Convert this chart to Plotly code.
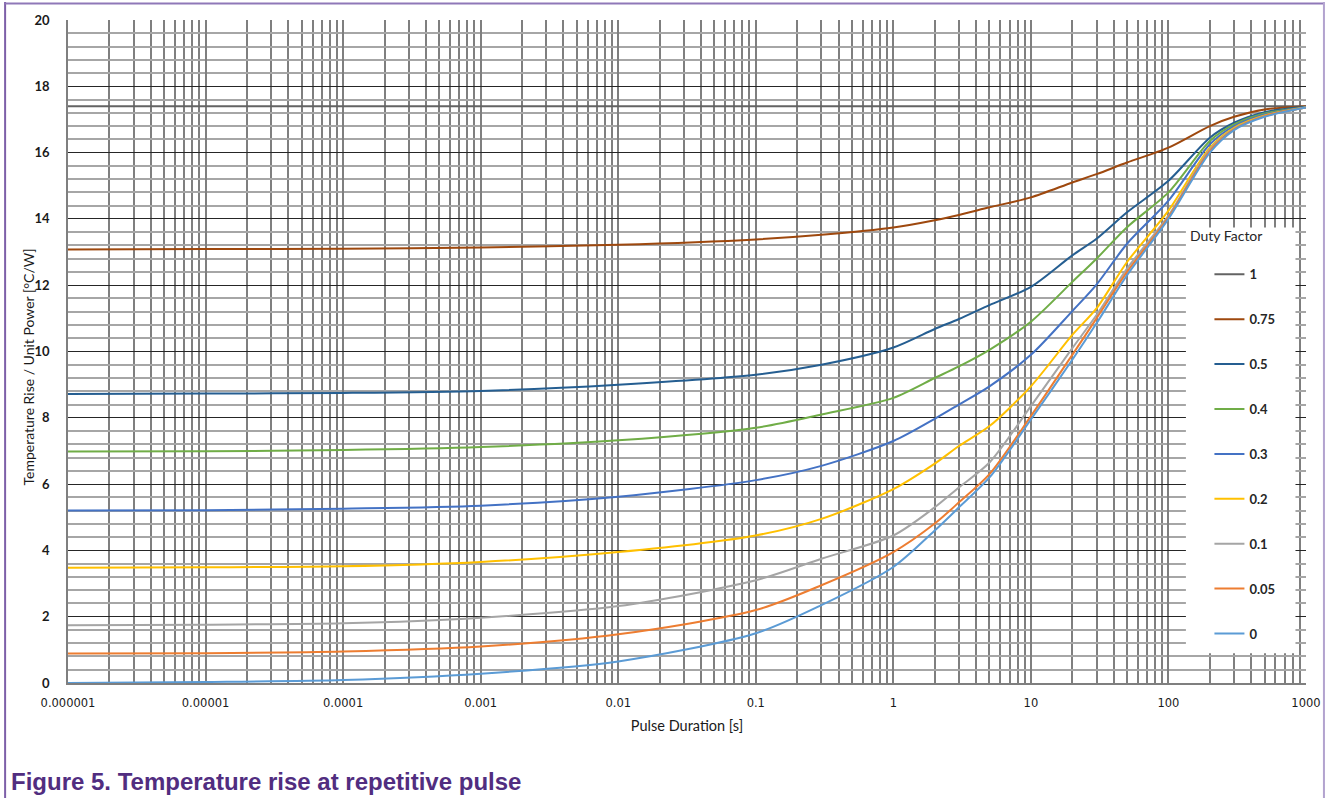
import plotly.graph_objects as go

# Pulse duration [s]
pulse = [1e-6, 1e-5, 1e-4, 1e-3, 1e-2, 0.1, 0.3, 1, 2, 3, 5, 10, 20, 30, 50, 100, 200, 300, 500, 1000]

# Temperature rise / unit power [°C/W] per duty factor
d_1    = [17.4] * 20
d_075  = [13.08, 13.09, 13.10, 13.14, 13.22, 13.38, 13.52, 13.74, 13.96, 14.12, 14.35, 14.65, 15.10, 15.35, 15.70, 16.15, 16.80, 17.08, 17.30, 17.40]
d_05   = [8.72, 8.73, 8.75, 8.81, 9.00, 9.30, 9.60, 10.12, 10.68, 10.98, 11.40, 11.95, 12.90, 13.40, 14.20, 15.15, 16.45, 16.90, 17.22, 17.38]
d_04   = [6.98, 6.99, 7.03, 7.12, 7.32, 7.70, 8.10, 8.60, 9.20, 9.55, 10.05, 10.90, 12.10, 12.80, 13.75, 14.80, 16.35, 16.85, 17.18, 17.37]
d_03   = [5.20, 5.21, 5.26, 5.35, 5.62, 6.12, 6.55, 7.30, 7.97, 8.40, 8.95, 9.90, 11.22, 12.02, 13.25, 14.55, 16.25, 16.80, 17.15, 17.37]
d_02   = [3.48, 3.49, 3.52, 3.65, 3.95, 4.45, 4.95, 5.85, 6.62, 7.15, 7.75, 8.95, 10.50, 11.30, 12.70, 14.25, 16.15, 16.75, 17.12, 17.36]
d_01   = [1.74, 1.76, 1.80, 1.97, 2.32, 3.10, 3.75, 4.45, 5.30, 5.90, 6.65, 8.35, 10.10, 11.10, 12.50, 14.10, 16.10, 16.72, 17.10, 17.36]
d_005  = [0.89, 0.90, 0.95, 1.10, 1.47, 2.20, 2.95, 3.95, 4.81, 5.45, 6.30, 8.05, 9.90, 11.00, 12.40, 14.05, 16.05, 16.70, 17.10, 17.36]
d_0    = [0.00, 0.03, 0.09, 0.28, 0.65, 1.50, 2.35, 3.50, 4.60, 5.30, 6.20, 7.95, 9.75, 10.85, 12.30, 14.00, 16.00, 16.68, 17.08, 17.36]

series_names = ["1", "0.75", "0.5", "0.4", "0.3", "0.2", "0.1", "0.05", "0"]
series_values = [d_1, d_075, d_05, d_04, d_03, d_02, d_01, d_005, d_0]
series_colors = ["#636363", "#9E480E", "#255E91", "#70AD47", "#4472C4", "#FFC000", "#A5A5A5", "#ED7D31", "#5B9BD5"]

x_tickvals = [1e-6, 1e-5, 1e-4, 1e-3, 1e-2, 1e-1, 1, 10, 100, 1000]
x_ticktext = ["0.000001", "0.00001", "0.0001", "0.001", "0.01", "0.1", "1", "10", "100", "1000"]
x_minor = [m * d for d in x_tickvals[:-1] for m in range(2, 10)]

fig = go.Figure()
for name, vals, col in zip(series_names, series_values, series_colors):
    fig.add_trace(go.Scatter(
        x=pulse, y=vals, name=name, mode="lines", legendgroup=name,
        line=dict(color=col, width=2, shape="spline", smoothing=0.8),
    ))

fig.update_layout(
    width=1333, height=798,
    margin=dict(l=68, r=24, t=18, b=115),
    paper_bgcolor="white", plot_bgcolor="white",
    showlegend=True,
    legend=dict(
        x=0.922, y=0.639, xanchor="left", yanchor="top",
        bgcolor="rgba(0,0,0,0)", borderwidth=0,
        tracegroupgap=25, itemwidth=30,
        font=dict(family="Lato", size=13, color="#262626", weight="bold"),
    ),
    xaxis=dict(
        type="log", range=[-6, 3],
        tickmode="array", tickvals=x_tickvals, ticktext=x_ticktext,
        tickfont=dict(family="DejaVu Sans", size=11.5, color="#1a1a1a"),
        ticks="outside", ticklen=8, tickcolor="rgba(0,0,0,0)",
        showgrid=True, gridcolor="#7f7f7f", gridwidth=1.5,
        minor=dict(tickmode="array", tickvals=x_minor, showgrid=True, gridcolor="#7f7f7f", gridwidth=1.5, ticks=""),
        showline=True, linecolor="#7f7f7f", linewidth=1.5,
        zeroline=False,
        title=dict(text="Pulse Duration [s]", font=dict(family="Lato", size=14.5, color="#1a1a1a"), standoff=12),
    ),
    yaxis=dict(
        range=[0, 20], dtick=2, tick0=0,
        tickfont=dict(family="Lato", size=13, color="#1a1a1a", weight="bold"),
        ticks="outside", ticklen=14, tickcolor="rgba(0,0,0,0)",
        showgrid=True, gridcolor="#262626", gridwidth=1.3,
        minor=dict(dtick=0.4, showgrid=True, gridcolor="#a6a6a6", gridwidth=1.5, ticks=""),
        showline=True, linecolor="#7f7f7f", linewidth=1.5,
        zeroline=False,
    ),
    shapes=[
        # white legend box covering the grid
        dict(type="rect", xref="paper", yref="paper", x0=0.903, x1=0.9915, y0=0.045, y1=0.687,
             fillcolor="white", line=dict(width=0), layer="above"),
        # purple frame of the figure
        dict(type="line", xref="paper", yref="paper", x0=-0.0508, x1=-0.0508, y0=1.027, y1=-0.2,
             line=dict(color="#7d5fa8", width=2), layer="above"),
        dict(type="line", xref="paper", yref="paper", x0=-0.0508, x1=1.0145, y0=1.025, y1=1.025,
             line=dict(color="#8f78b8", width=2), layer="above"),
        dict(type="line", xref="paper", yref="paper", x0=1.0145, x1=1.0145, y0=1.027, y1=-0.2,
             line=dict(color="#b3a3cf", width=2), layer="above"),
    ],
    annotations=[
        dict(text="Temperature Rise / Unit Power [°C/W]", xref="paper", yref="paper",
             x=-0.0322, y=0.476, xanchor="center", yanchor="middle", textangle=-90, showarrow=False,
             font=dict(family="Lato", size=14, color="#1a1a1a")),
        dict(text="Duty Factor", xref="paper", yref="paper", x=0.9045, y=0.6745,
             xanchor="left", yanchor="middle", showarrow=False,
             font=dict(family="Lato", size=14, color="#262626")),
        dict(text="<b>Figure 5. Temperature rise at repetitive pulse</b>", xref="paper", yref="paper",
             x=-0.0475, y=-0.149, xanchor="left", yanchor="middle", showarrow=False,
             font=dict(family="Liberation Sans", size=24, color="#512d80")),
    ],
)

fig.write_html("out.html")
